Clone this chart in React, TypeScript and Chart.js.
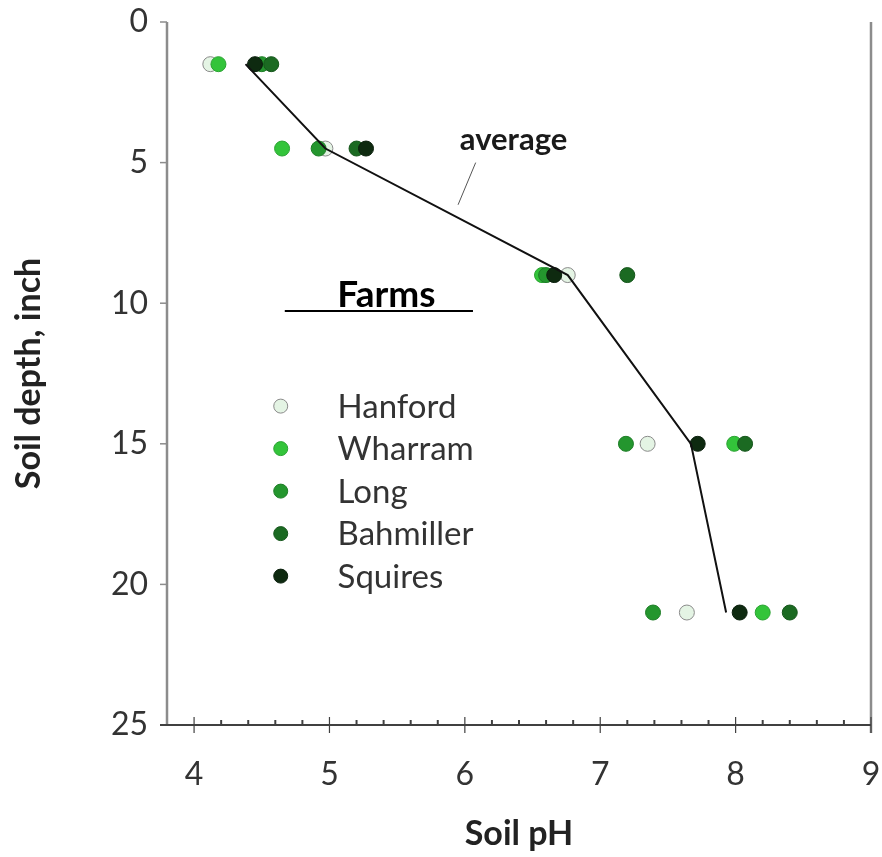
import React, { useEffect, useRef } from "react";
import { Chart, registerables } from "chart.js";

Chart.register(...registerables);

// ---- data ----
const depths = [1.5, 4.5, 9, 15, 21];
const farmNames = ["Hanford", "Wharram", "Long", "Bahmiller", "Squires"];
const hanfordPH = [4.12, 4.97, 6.76, 7.35, 7.64];
const wharramPH = [4.18, 4.65, 6.57, 7.99, 8.2];
const longPH = [4.5, 4.92, 6.6, 7.19, 7.39];
const bahmillerPH = [4.57, 5.2, 7.2, 8.07, 8.4];
const squiresPH = [4.45, 5.27, 6.66, 7.72, 8.03];
const averagePH = [4.38, 4.97, 6.76, 7.67, 7.93];
const xTickValues = [4, 5, 6, 7, 8, 9];
const yTickValues = [0, 5, 10, 15, 20, 25];
const xMinorStep = 0.2;

const farmFills = ["#e4f4e4", "#33c43a", "#24962e", "#1b6a22", "#0e2a10"];
const farmBorders = ["#8a8a8a", "#2aa232", "#1d7d26", "#15561b", "#0a1f0c"];

const FONT = "Lato, 'Open Sans', sans-serif";

export default function App() {
  const canvasRef = useRef<HTMLCanvasElement | null>(null);

  useEffect(() => {
    document.body.style.margin = "0";
    const canvas = canvasRef.current;
    if (!canvas) return;

    const series = [hanfordPH, wharramPH, longPH, bahmillerPH, squiresPH];
    const farmDatasets = series.map((vals, i) => ({
      label: farmNames[i],
      data: vals.map((v, k) => ({ x: v, y: depths[k] })),
      showLine: false,
      pointRadius: 7.5,
      pointBackgroundColor: farmFills[i],
      pointBorderColor: farmBorders[i],
      pointBorderWidth: 1,
      order: 5 - i,
    }));

    const averageDataset = {
      label: "average",
      data: averagePH.map((v, k) => ({ x: v, y: depths[k] })),
      showLine: true,
      borderColor: "#111111",
      borderWidth: 2,
      pointRadius: 0,
      tension: 0,
      order: 0,
    };

    const decorPlugin = {
      id: "decor",
      beforeDatasetsDraw(chart: any) {
        const ctx = chart.ctx;
        const xs = chart.scales.x;
        const ys = chart.scales.y;
        const { left, right, top, bottom } = chart.chartArea;
        ctx.save();
        // left axis & right border
        ctx.strokeStyle = "#8c8c8c";
        ctx.lineWidth = 2.5;
        ctx.beginPath();
        ctx.moveTo(left, top);
        ctx.lineTo(left, bottom);
        ctx.moveTo(right, top);
        ctx.lineTo(right, bottom + 8);
        ctx.stroke();
        // y major ticks (outside)
        ctx.lineWidth = 1.5;
        yTickValues.forEach((v) => {
          const y = ys.getPixelForValue(v);
          ctx.beginPath();
          ctx.moveTo(left - 7, y);
          ctx.lineTo(left, y);
          ctx.stroke();
        });
        // x axis line
        ctx.strokeStyle = "#404040";
        ctx.lineWidth = 1.8;
        ctx.beginPath();
        ctx.moveTo(left - 7, bottom);
        ctx.lineTo(right, bottom);
        ctx.stroke();
        // x major ticks (cross)
        ctx.lineWidth = 1.2;
        xTickValues.forEach((v) => {
          const x = xs.getPixelForValue(v);
          ctx.beginPath();
          ctx.moveTo(x, bottom - 8);
          ctx.lineTo(x, bottom + 8);
          ctx.stroke();
        });
        // x minor ticks (inside)
        ctx.lineWidth = 2;
        const nMinor = Math.round((xs.max - xs.min) / xMinorStep);
        for (let i = 1; i < nMinor; i++) {
          const v = +(xs.min + i * xMinorStep).toFixed(2);
          if (Math.abs(v - Math.round(v)) < 1e-6) continue;
          const x = xs.getPixelForValue(v);
          ctx.beginPath();
          ctx.moveTo(x, bottom - 5);
          ctx.lineTo(x, bottom);
          ctx.stroke();
        }
        ctx.restore();
      },
      afterDraw(chart: any) {
        const ctx = chart.ctx;
        const xs = chart.scales.x;
        const ys = chart.scales.y;
        const px = (v: number) => xs.getPixelForValue(v);
        const py = (v: number) => ys.getPixelForValue(v);
        ctx.save();
        // "average" annotation
        ctx.fillStyle = "#1a1a1a";
        ctx.font = `bold 31px ${FONT}`;
        ctx.textAlign = "center";
        ctx.textBaseline = "middle";
        ctx.fillText("average", px(6.36), py(4.2));
        ctx.strokeStyle = "#555555";
        ctx.lineWidth = 1;
        ctx.beginPath();
        ctx.moveTo(px(6.08), py(5.0));
        ctx.lineTo(px(5.95), py(6.5));
        ctx.stroke();
        // "Farms" heading with underline
        ctx.fillStyle = "#000000";
        ctx.font = `bold 37px ${FONT}`;
        ctx.fillText("Farms", px(5.42), py(9.7));
        ctx.strokeStyle = "#000000";
        ctx.lineWidth = 2;
        ctx.beginPath();
        ctx.moveTo(px(4.67), py(10.28));
        ctx.lineTo(px(6.06), py(10.28));
        ctx.stroke();
        // legend
        const lx = px(4.64);
        const tx = px(5.06);
        const y0 = py(13.66);
        const step = 42.5;
        ctx.font = `33px ${FONT}`;
        ctx.textAlign = "left";
        farmNames.forEach((name, i) => {
          const y = y0 + i * step;
          ctx.beginPath();
          ctx.arc(lx, y, 7, 0, Math.PI * 2);
          ctx.fillStyle = farmFills[i];
          ctx.fill();
          ctx.strokeStyle = farmBorders[i];
          ctx.lineWidth = 1;
          ctx.stroke();
          ctx.fillStyle = "#333333";
          ctx.fillText(name, tx, y + 1);
        });
        ctx.restore();
      },
    };

    const hiddenGrid = {
      display: true,
      drawOnChartArea: false,
      drawTicks: true,
      color: "rgba(0,0,0,0)",
    };

    const chart = new Chart(canvas, {
      type: "scatter",
      data: { datasets: [averageDataset as any, ...farmDatasets] },
      options: {
        responsive: false,
        animation: false,
        events: [],
        layout: { padding: { left: 0, top: 22, right: 11, bottom: 0 } },
        plugins: { legend: { display: false }, tooltip: { enabled: false } },
        scales: {
          x: {
            type: "linear",
            position: "bottom",
            min: 3.8,
            max: 9,
            grid: { ...hiddenGrid, tickLength: 29 },
            border: { display: false },
            afterBuildTicks: (s: any) => {
              s.ticks = xTickValues.map((v) => ({ value: v }));
            },
            afterFit: (s: any) => {
              s.height = 132;
            },
            ticks: {
              padding: 1,
              color: "#333333",
              font: { family: FONT, size: 32 },
              maxRotation: 0,
              autoSkip: false,
            },
            title: {
              display: true,
              text: "Soil pH",
              color: "#222222",
              font: { family: FONT, size: 34, weight: "bold" },
              padding: { top: 0, bottom: 3 },
            },
          },
          y: {
            type: "linear",
            position: "left",
            reverse: true,
            min: 0,
            max: 25,
            grid: { ...hiddenGrid, tickLength: 18 },
            border: { display: false },
            afterBuildTicks: (s: any) => {
              s.ticks = yTickValues.map((v) => ({ value: v }));
            },
            afterFit: (s: any) => {
              s.width = 167;
            },
            ticks: {
              padding: 1,
              color: "#333333",
              font: { family: FONT, size: 32 },
              autoSkip: false,
            },
            title: {
              display: true,
              text: "Soil depth, inch",
              color: "#222222",
              font: { family: FONT, size: 34, weight: "bold" },
              padding: { top: 9, bottom: 0 },
            },
          },
        },
      },
      plugins: [decorPlugin],
    });

    return () => {
      chart.destroy();
    };
  }, []);

  return (
    <div style={{ width: 882, height: 857 }}>
      <canvas ref={canvasRef} width={882} height={857} style={{ display: "block" }} />
    </div>
  );
}
